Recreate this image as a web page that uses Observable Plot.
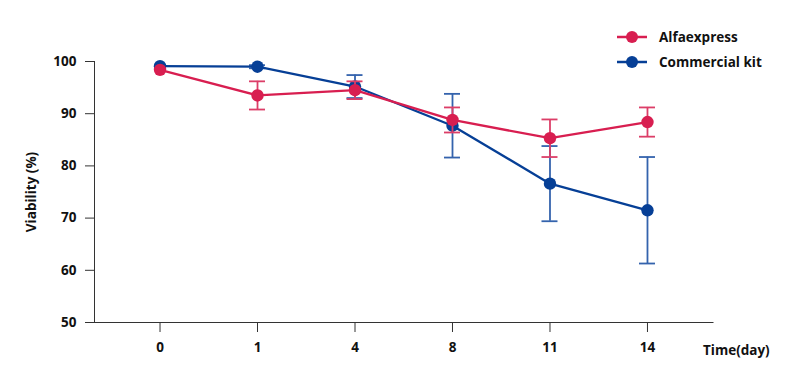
<!DOCTYPE html>
<html><head><meta charset="utf-8">
<script src="https://cdn.jsdelivr.net/npm/d3@7"></script>
<script src="https://cdn.jsdelivr.net/npm/@observablehq/plot@0.6"></script>
<style>
body{margin:0;background:#fff;}
#wrap{position:relative;width:792px;height:372px;font-family:"Open Sans",sans-serif;}
#legend{position:absolute;left:617px;top:24.5px;font-weight:bold;font-size:13.5px;color:#111;}
.item{display:flex;align-items:center;height:25px;white-space:nowrap;}
.item svg{margin-right:12px;display:block;}
</style></head><body><div id="wrap"><div id="legend"></div></div>
<script>
const days = ["0","1","4","8","11","14"];
const seriesNames = ["Alfaexpress","Commercial kit"];
const alfaMean = [98.4,93.5,94.5,88.8,85.3,88.4];
const alfaErr  = [0,2.7,1.7,2.4,3.6,2.8];
const kitMean  = [99.1,99.0,95.2,87.7,76.6,71.5];
const kitErr   = [0,0.3,2.2,6.1,7.2,10.2];
const yTicks = [50,60,70,80,90,100];
const xTitle = "Time(day)";
const yTitle = "Viability (%)";

const lineColors = ["#d81e50","#063f96"];
const errColors = ["#dc3e68","#3463ad"];

const series = [
  {name: seriesNames[0], mean: alfaMean, err: alfaErr, color: lineColors[0], errColor: errColors[0]},
  {name: seriesNames[1], mean: kitMean, err: kitErr, color: lineColors[1], errColor: errColors[1]}
];
const tables = series.map(s => days.map((d, i) => ({series: s.name, day: d, mean: s.mean[i], err: s.err[i]})));

const marks = [
  Plot.frame({anchor: "left", stroke: "#333"}),
  Plot.frame({anchor: "bottom", stroke: "#333"}),
  Plot.axisY({ticks: yTicks, tickSize: 9, tickPadding: 9, stroke: "#333", label: yTitle, labelAnchor: "center", labelArrow: "none", labelOffset: 68}),
  Plot.axisX({tickSize: 10, tickPadding: 10, stroke: "#333", label: null}),
  Plot.text([xTitle], {frameAnchor: "bottom-right", dx: -10, dy: 28, textAnchor: "start", lineAnchor: "middle", fill: "#111"})
];
// draw Commercial kit first, Alfaexpress on top
[1, 0].forEach(k => {
  const s = series[k];
  const rows = tables[k];
  const withErr = rows.filter(r => r.err > 0);
  marks.push(
    Plot.ruleX(withErr, {x: "day", y1: r => r.mean - r.err, y2: r => r.mean + r.err, stroke: s.errColor, strokeWidth: 1.8}),
    Plot.ruleY(withErr, {x1: "day", x2: "day", y: r => r.mean + r.err, stroke: s.errColor, strokeWidth: 1.8, insetLeft: -8, insetRight: -8}),
    Plot.ruleY(withErr, {x1: "day", x2: "day", y: r => r.mean - r.err, stroke: s.errColor, strokeWidth: 1.8, insetLeft: -8, insetRight: -8}),
    Plot.line(rows, {x: "day", y: "mean", stroke: s.color, strokeWidth: 2.3}),
    Plot.dot(rows, {x: "day", y: "mean", fill: s.color, r: 6.2})
  );
});

const chart = Plot.plot({
  width: 792,
  height: 372,
  marginLeft: 94,
  marginRight: 79.5,
  marginTop: 61,
  marginBottom: 50,
  style: {fontFamily: "'Open Sans', sans-serif", fontSize: "13.5px", fontWeight: "bold", color: "#111", background: "#fff"},
  x: {type: "point", domain: days, padding: 0.672, round: false},
  y: {domain: [50, 100]},
  marks
});
document.getElementById("wrap").prepend(chart);

const legend = document.getElementById("legend");
series.forEach(s => {
  const item = document.createElement("div");
  item.className = "item";
  item.innerHTML = `<svg width="30" height="14"><line x1="0" x2="30" y1="7" y2="7" stroke="${s.color}" stroke-width="2.5"/><circle cx="15" cy="7" r="6" fill="${s.color}"/></svg>`;
  const t = document.createElement("span");
  t.textContent = s.name;
  item.appendChild(t);
  legend.appendChild(item);
});
</script>
</body></html>
